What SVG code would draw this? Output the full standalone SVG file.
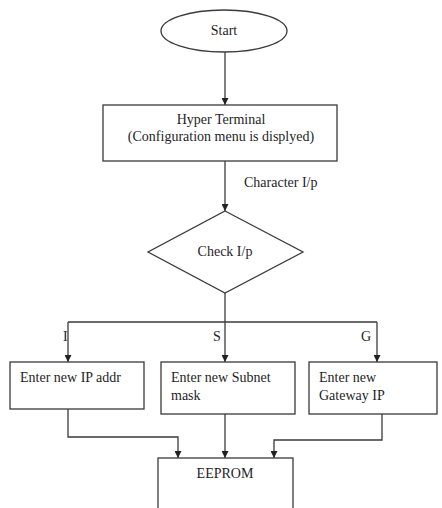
<svg xmlns="http://www.w3.org/2000/svg" width="442" height="508" viewBox="0 0 442 508">
  <style>
    .shape { fill: #ffffff; stroke: #3a3a3a; stroke-width: 1.3; }
    .wire { fill: none; stroke: #3a3a3a; stroke-width: 1.3; }
    text { font-family: "Liberation Serif", "Times New Roman", serif; font-size: 14px; fill: #1e1e1e; }
    .c { text-anchor: middle; }
  </style>
  <defs>
    <marker id="arrow" viewBox="0 0 10 10" refX="10" refY="5" markerWidth="7" markerHeight="7" orient="auto" markerUnits="userSpaceOnUse">
      <path d="M0,0 L10,5 L0,10 Z" fill="#222222"/>
    </marker>
  </defs>
  <rect x="0" y="0" width="442" height="508" fill="#ffffff"/>

  <g id="connectors">
    <path class="wire" d="M225,52 V105" marker-end="url(#arrow)"/>
    <path class="wire" d="M225,161 V211" marker-end="url(#arrow)"/>
    <path class="wire" d="M225,293 V362" marker-end="url(#arrow)"/>
    <path class="wire" d="M68,322 H377"/>
    <path class="wire" d="M68,322 V362" marker-end="url(#arrow)"/>
    <path class="wire" d="M377,322 V362" marker-end="url(#arrow)"/>
    <path class="wire" d="M68,409 V437 H178 V458" marker-end="url(#arrow)"/>
    <path class="wire" d="M225,414 V458" marker-end="url(#arrow)"/>
    <path class="wire" d="M382,414 V440 H274 V458" marker-end="url(#arrow)"/>
    <text x="244" y="187">Character I/p</text>
    <text x="63" y="341">I</text>
    <text x="213" y="341">S</text>
    <text x="361" y="341">G</text>
  </g>

  <g id="start">
    <ellipse class="shape" cx="224" cy="31" rx="63" ry="21"/>
    <text class="c" x="224" y="35">Start</text>
  </g>

  <g id="hyper-terminal">
    <rect class="shape" x="103" y="105" width="234" height="56"/>
    <text class="c" x="221" y="124">Hyper Terminal</text>
    <text class="c" x="221" y="141">(Configuration menu is displyed)</text>
  </g>

  <g id="check-input">
    <polygon class="shape" points="225,211 303,252 225,293 148,252"/>
    <text class="c" x="225" y="256">Check I/p</text>
  </g>

  <g id="ip-addr">
    <rect class="shape" x="10" y="362" width="134" height="47"/>
    <text x="20" y="382">Enter new IP addr</text>
  </g>

  <g id="subnet-mask">
    <rect class="shape" x="161" y="362" width="134" height="52"/>
    <text x="171" y="382">Enter new Subnet</text>
    <text x="171" y="400">mask</text>
  </g>

  <g id="gateway-ip">
    <rect class="shape" x="309" y="362" width="128" height="52"/>
    <text x="319" y="382">Enter new</text>
    <text x="319" y="400">Gateway IP</text>
  </g>

  <g id="eeprom">
    <rect class="shape" x="158" y="458" width="135" height="60"/>
    <text class="c" x="225" y="478">EEPROM</text>
  </g>
</svg>
